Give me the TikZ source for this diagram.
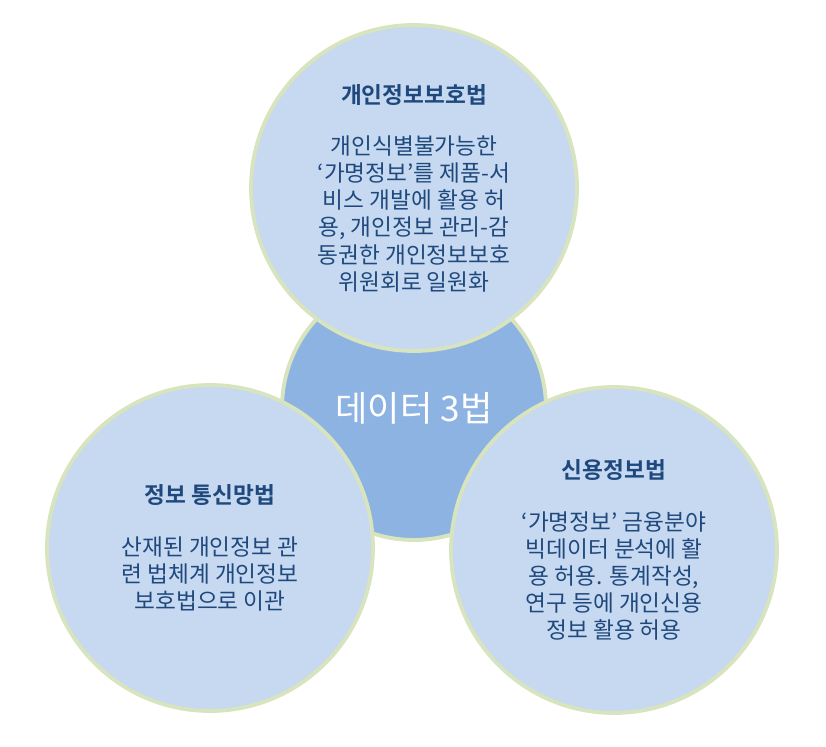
\documentclass[tikz,border=0pt]{standalone}
\usepackage{fontspec}
\setmainfont{Noto Sans CJK KR}[BoldFont={Noto Sans CJK KR Bold}]
\usepackage{tikz}

\definecolor{rimgreen}{HTML}{D7E4BD}
\definecolor{lawblue}{HTML}{C6D9F1}
\definecolor{hubblue}{HTML}{8DB3E2}
\definecolor{inkblue}{HTML}{1F497D}

\begin{document}
\begin{tikzpicture}[x=0.02cm, y=-0.02cm,
  lawcirc/.style={circle, draw=rimgreen, line width=2.2pt, fill=lawblue, minimum size=6.52cm, inner sep=0pt,
    text=inkblue, align=center, font=\fontsize{12.9}{15.4}\selectfont},
  hubcirc/.style={circle, draw=rimgreen, line width=2.2pt, fill=hubblue, minimum size=5.28cm, inner sep=0pt}]
\useasboundingbox (0,0) rectangle (826,747);

% centre circle first, the three law circles lie over it
\node[hubcirc] (hub) at (414,408) {};

\node[lawcirc] (pip) at (414,188) {\textbf{개인정보보호법}\\[14pt]
  개인식별불가능한\\ ‘가명정보’를 제품-서\\ 비스 개발에 활용 허\\
  용, 개인정보 관리-감\\ 동권한 개인정보보호\\ 위원회로 일원화};

\node[lawcirc] (icn) at (210,548) {\textbf{정보 통신망법}\\[14pt]
  산재된 개인정보 관\\ 련 법체계 개인정보\\ 보호법으로 이관};

\node[lawcirc] (cia) at (614,550) {\textbf{신용정보법}\\[14pt]
  ‘가명정보’ 금융분야\\ 빅데이터 분석에 활\\ 용 허용. 통계작성,\\
  연구 등에 개인신용\\ 정보 활용 허용};

\node[text=white, font=\fontsize{20}{22}\selectfont] (hubtxt) at (hub.center) {데이터 3법};
\end{tikzpicture}
\end{document}
